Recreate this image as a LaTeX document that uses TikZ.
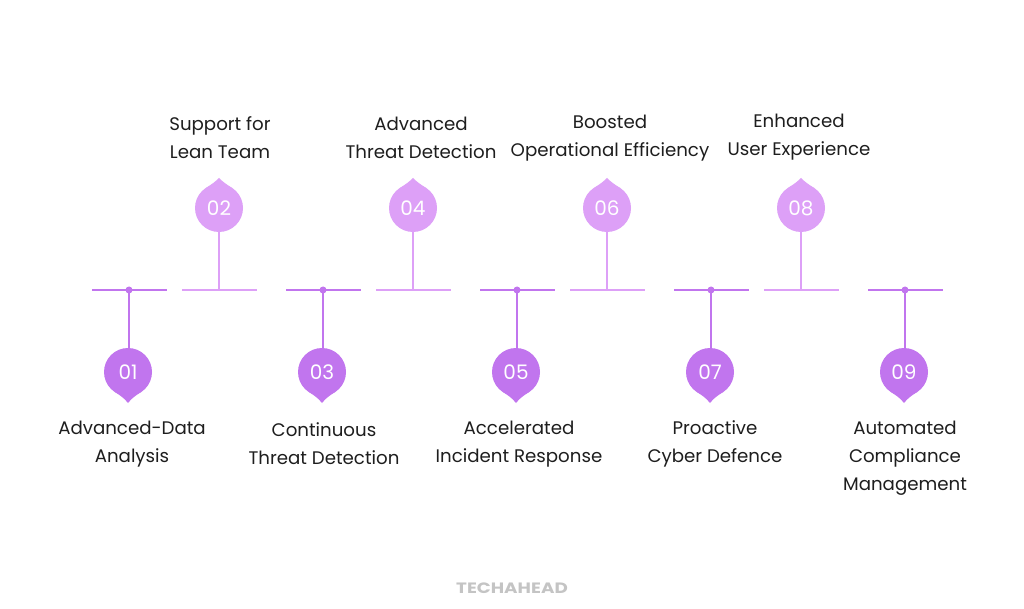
\documentclass[tikz,border=0pt]{standalone}
\usepackage{fontspec}
\setmainfont{Poppins}
\definecolor{darkp}{HTML}{C175EE}
\definecolor{lightp}{HTML}{DDA0F7}
\definecolor{labelc}{HTML}{1E1E1E}
\definecolor{logoc}{HTML}{C4C4C4}
\tikzset{
  x=1pt,y=-1pt,
  badge/.style={circle,fill=#1,minimum size=48pt,inner sep=0pt,text=white,font=\fontsize{20}{20}\selectfont},
  stem/.style={draw=#1,line width=2pt},
  lab/.style={align=center,text=labelc,font=\fontsize{18.2}{28}\selectfont,inner sep=0pt,anchor=center},
}
\newcommand{\lowerItem}[4]{% x, number, tag, text
  \coordinate (bl#3) at (#1-36,290);
  \coordinate (br#3) at (#1+39,290);
  \coordinate (jn#3) at (#1+1,290);
  \node[badge=darkp] (b#3) at (#1,372) {#2};
  \fill[darkp] (#1-13,392) .. controls (#1-7,396) and (#1-4,398) .. (#1,403) .. controls (#1+4,398) and (#1+7,396) .. (#1+13,392) -- cycle;
  \draw[stem=darkp] (bl#3) -- (br#3);
  \draw[stem=darkp] (jn#3) -- (jn#3 |- b#3.north);
  \fill[darkp] (jn#3) circle (3.5);
}
\newcommand{\upperItem}[4]{%
  \coordinate (bl#3) at (#1-37,290);
  \coordinate (br#3) at (#1+38,290);
  \coordinate (jn#3) at (#1,290);
  \node[badge=lightp] (b#3) at (#1,208) {#2};
  \fill[lightp] (#1-13,188) .. controls (#1-7,184) and (#1-4,182) .. (#1,178) .. controls (#1+4,182) and (#1+7,184) .. (#1+13,188) -- cycle;
  \draw[stem=lightp] (bl#3) -- (br#3);
  \draw[stem=lightp] (jn#3) -- (b#3.south);
}
\begin{document}
\begin{tikzpicture}
\useasboundingbox (0,0) rectangle (1024,609);
\fill[white] (0,0) rectangle (1024,609);
\lowerItem{128}{01}{a}{}
\upperItem{219}{02}{b}{}
\lowerItem{322}{03}{c}{}
\upperItem{413}{04}{d}{}
\lowerItem{516}{05}{e}{}
\upperItem{607}{06}{f}{}
\lowerItem{710}{07}{g}{}
\upperItem{801}{08}{h}{}
\lowerItem{904}{09}{i}{}
\node[lab] (la) at (132,444) {Advanced-Data\\Analysis};
\node[lab] (lb) at (220,138) {Support for\\Lean Team};
\node[lab] (lc) at (324,444) {Continuous\\Threat Detection};
\node[lab] (ld) at (421,138) {Advanced\\Threat Detection};
\node[lab] (le) at (519,444) {Accelerated\\Incident Response};
\node[lab] (lf) at (610,138) {Boosted\\Operational Efficiency};
\node[lab] (lg) at (715,444) {Proactive\\Cyber Defence};
\node[lab] (lh) at (799,137) {Enhanced\\User Experience};
\node[lab] (li) at (905,458) {Automated\\Compliance\\Management};
\node[text=logoc,inner sep=0pt] (logo) at (512,588) {\scalebox{1.22}[1]{\fontsize{15}{15}\selectfont\bfseries TECHAHEAD}};
\end{tikzpicture}
\end{document}
